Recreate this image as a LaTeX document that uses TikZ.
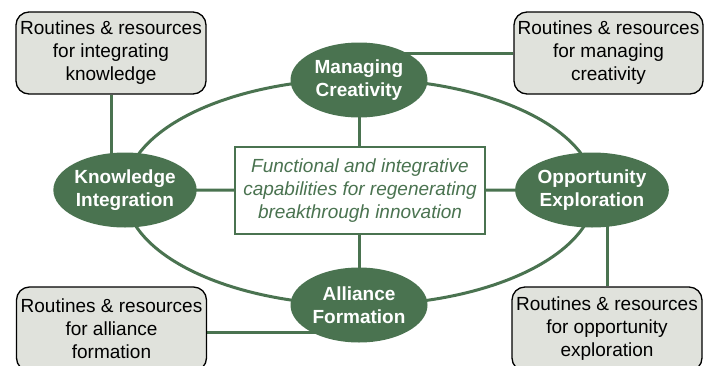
\documentclass[tikz,border=0pt]{standalone}
\usepackage{fontspec}
\setmainfont{Liberation Sans}
\usetikzlibrary{shapes.geometric,backgrounds}
\definecolor{dgreen}{RGB}{74,115,80}
\definecolor{boxfill}{RGB}{224,226,220}
\tikzset{
  rbox/.style={draw=black, line width=1.3pt, fill=boxfill, rounded corners=13pt,
    minimum width=190pt, minimum height=82pt, align=center, inner sep=0pt,
    font=\fontsize{19}{23}\selectfont},
  capnode/.style={ellipse, fill=dgreen, minimum width=137pt, minimum height=75pt,
    inner sep=0pt, align=center, text=white, font=\fontsize{19}{23}\selectfont\bfseries},
  link/.style={draw=dgreen, line width=3pt},
  core/.style={draw=dgreen, line width=1.5pt, fill=white, minimum width=250pt,
    minimum height=87pt, align=center, inner sep=0pt, text=dgreen,
    font=\fontsize{19}{23}\selectfont\itshape}
}
\begin{document}
\begin{tikzpicture}[x=1pt,y=-1pt]
\useasboundingbox (0,0) rectangle (705,365);
\clip (0,0) rectangle (705,365);
% capability nodes
\node[capnode] (mc) at (359,80) {Managing\\Creativity};
\node[capnode] (ki) at (125,190) {Knowledge\\Integration};
\node[capnode] (oe) at (592,190) {Opportunity\\Exploration};
\node[capnode] (af) at (359,305) {Alliance\\Formation};
% core
\node[core] (cr) at (360,190.5) {Functional and integrative\\capabilities for regenerating\\breakthrough innovation};
% resource boxes
\node[rbox] (tl) at (111,53) {Routines \& resources\\for integrating\\knowledge};
\node[rbox, minimum width=189pt] (tr) at (608.5,53) {Routines \& resources\\for managing\\creativity};
\node[rbox, minimum height=84pt] (bl) at (111.5,329) {Routines \& resources\\for alliance\\formation};
\node[rbox, minimum width=190pt, minimum height=84pt] (br) at (607,329) {Routines \& resources\\for opportunity\\exploration};
\begin{scope}[on background layer]
  \draw[link] (360,192) ellipse [x radius=235pt, y radius=113pt];
  \draw[link] (tl.south) -- (tl.south |- ki.center);
  \draw[link] (tr.west) -- (tr.west -| mc.center);
  \draw[link] (mc.center) -- (mc.center |- cr.center);
  \draw[link] (ki.center) -- (cr.center);
  \draw[link] (cr.center) -- (oe.center);
  \draw[link] (af.center |- cr.center) -- (af.center);
  \draw[link] ([yshift=-3pt]bl.east) -- ([yshift=-3pt]bl.east -| af.center);
  \draw[link] (br.north) -- (br.north |- oe.center);
\end{scope}
\end{tikzpicture}
\end{document}
